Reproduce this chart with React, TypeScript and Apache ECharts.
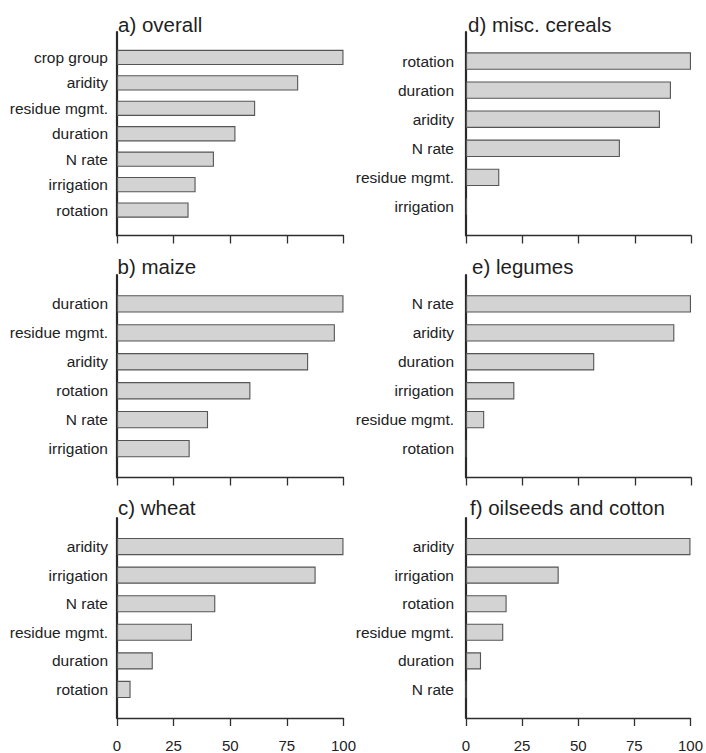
import React, { useEffect, useRef } from "react";
import * as echarts from "echarts";

const titleA = "a) overall";
const catsA = ["crop group", "aridity", "residue mgmt.", "duration", "N rate", "irrigation", "rotation"];
const valsA = [100, 80, 61, 52.3, 42.8, 34.7, 31.6];

const titleB = "b) maize";
const catsB = ["duration", "residue mgmt.", "aridity", "rotation", "N rate", "irrigation"];
const valsB = [100, 96.2, 84.4, 58.9, 40.2, 32.1];

const titleC = "c) wheat";
const catsC = ["aridity", "irrigation", "N rate", "residue mgmt.", "duration", "rotation"];
const valsC = [100, 87.7, 43.4, 33.1, 15.8, 6.0];

const titleD = "d) misc. cereals";
const catsD = ["rotation", "duration", "aridity", "N rate", "residue mgmt.", "irrigation"];
const valsD = [100, 91.1, 86.2, 68.4, 14.8, 0.4];

const titleE = "e) legumes";
const catsE = ["N rate", "aridity", "duration", "irrigation", "residue mgmt.", "rotation"];
const valsE = [100, 92.6, 57.0, 21.5, 8.1, 0];

const titleF = "f) oilseeds and cotton";
const catsF = ["aridity", "irrigation", "rotation", "residue mgmt.", "duration", "N rate"];
const valsF = [100, 41.3, 18.1, 16.6, 6.7, 0];

const xMin = 0;
const xMax = 100;
const xInterval = 25;

const FONT = "'Liberation Sans', Arial, sans-serif";
const TEXT = "#222222";

export default function App() {
  const ref = useRef<HTMLDivElement>(null);

  useEffect(() => {
    if (!ref.current) return;
    const chart = echarts.init(ref.current, null, { renderer: "svg" });

    const panels = [
      { title: titleA, cats: catsA, vals: valsA, col: 0, row: 0, tx: 118 },
      { title: titleB, cats: catsB, vals: valsB, col: 0, row: 1, tx: 117.5 },
      { title: titleC, cats: catsC, vals: valsC, col: 0, row: 2, tx: 118 },
      { title: titleD, cats: catsD, vals: valsD, col: 1, row: 0, tx: 468 },
      { title: titleE, cats: catsE, vals: valsE, col: 1, row: 1, tx: 472 },
      { title: titleF, cats: catsF, vals: valsF, col: 1, row: 2, tx: 470 },
    ];

    const colLeft = [117, 466];
    const colWidth = [226.5, 225];
    const rowTop = [32, 275, 518];
    const rowHeight = [203.5, 202.5, 202];
    const titleY = [24, 266.5, 507];
    const labelMargin = [9, 12];

    const grid: any[] = [];
    const xAxis: any[] = [];
    const yAxis: any[] = [];
    const series: any[] = [];
    const graphic: any[] = [];

    panels.forEach((p, i) => {
      grid.push({
        left: colLeft[p.col],
        width: colWidth[p.col],
        top: rowTop[p.row],
        height: rowHeight[p.row],
        containLabel: false,
      });
      xAxis.push({
        type: "value",
        gridIndex: i,
        min: xMin,
        max: xMax,
        interval: xInterval,
        position: "bottom",
        axisLine: { show: true, onZero: false, lineStyle: { color: "#2e2e2e", width: 1.3 } },
        axisTick: { show: true, inside: false, length: 8, lineStyle: { color: "#2e2e2e", width: 1.3 } },
        splitLine: { show: false },
        axisLabel: {
          show: p.row === 2,
          margin: 20,
          fontSize: 15,
          fontFamily: FONT,
          color: TEXT,
        },
      });
      yAxis.push({
        type: "category",
        gridIndex: i,
        inverse: true,
        boundaryGap: false,
        data: ["", ...p.cats, ""],
        axisLine: { show: true, onZero: false, lineStyle: { color: "#2a2a2a", width: 2.2 } },
        axisTick: { show: false },
        splitLine: { show: false },
        axisLabel: {
          show: true,
          interval: 0,
          margin: labelMargin[p.col],
          fontSize: 15.5,
          fontFamily: FONT,
          color: TEXT,
        },
      });
      series.push({
        type: "bar",
        xAxisIndex: i,
        yAxisIndex: i,
        barWidth: "60%",
        data: [null, ...p.vals, null],
        itemStyle: { color: "#d3d3d3", borderColor: "#555555", borderWidth: 1.1 },
        z: 1,
      });
      graphic.push({
        type: "text",
        x: p.tx,
        y: titleY[p.row],
        style: {
          text: p.title,
          fontSize: 20.5,
          fontFamily: FONT,
          fill: "#1f1f1f",
          align: "left",
          verticalAlign: "middle",
        },
      });
    });

    chart.setOption({
      animation: false,
      backgroundColor: "#ffffff",
      grid,
      xAxis,
      yAxis,
      series,
      graphic,
    });

    return () => chart.dispose();
  }, []);

  return (
    <div
      ref={ref}
      style={{ position: "fixed", left: 0, top: 0, width: 706, height: 753, background: "#fff" }}
    />
  );
}
